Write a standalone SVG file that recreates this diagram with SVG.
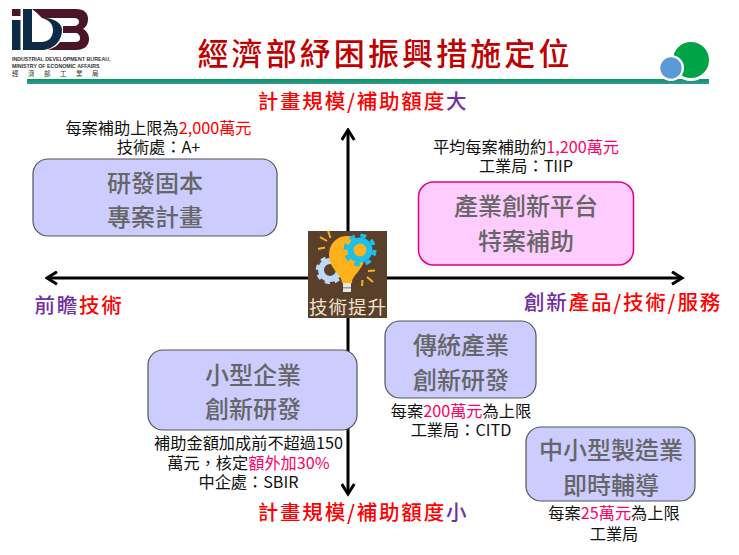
<svg xmlns="http://www.w3.org/2000/svg" width="739" height="555" viewBox="0 0 739 555">
<style>
text{font-family:"Noto Sans CJK TC","Noto Sans",sans-serif;text-anchor:middle}
.box{fill:#ccccff;stroke:#555;stroke-width:1.2}
.bt{font-size:24px;fill:#666;font-weight:500}
.n{font-size:16.2px;fill:#111}
.p{fill:#ff0066}
.r{fill:#ff0000}
.v{fill:#7030a0}
.ax{font-size:20.5px;fill:#ff0000;letter-spacing:1.8px;font-weight:500}
.axis{stroke:#000;stroke-width:3;fill:none}
.lt{font-family:"Liberation Sans",sans-serif;font-size:5.25px;font-weight:700;fill:#333;text-anchor:start}
</style>
<defs>
<linearGradient id="bar" x1="0" y1="0" x2="0" y2="1"><stop offset="0" stop-color="#00a04a"/><stop offset="1" stop-color="#3a90a8"/></linearGradient>
<marker id="ah" viewBox="0 0 12 12" refX="10" refY="6" markerWidth="5" markerHeight="5" orient="auto-start-reverse"><path d="M2 1L10 6L2 11" fill="none" stroke="#000" stroke-width="2.4"/></marker>
</defs>
<rect width="739" height="555" fill="#fff"/>
<g id="header">
<g id="logo">
<rect x="12" y="9" width="8.500" height="7" fill="#4a1525"/>
<rect x="12" y="20" width="8.500" height="30" fill="#0d2b45"/>
<path d="M32 9H76C84 9 88 13 88 19C88 24 86 27 83 29C87 31 89 35 89 39C89 46 84 50 76 50H48C54 48 58 45 60 42H75C78 42 80 41 80 38C80 35 78 33 75 33H63V26H74C77 26 79 24 79 22C79 19 77 18 74 18H42C38 14 35 11 32 9Z" fill="#4a1525"/>
<path d="M23 9H32V42H41C49 42 53 37 53 30C53 24 49 20 42 18H46C56 19 62 24 62 30C62 41 53 50 42 50H23Z" fill="#0d2b45"/>
<text class="lt" x="12" y="61">INDUSTRIAL DEVELOPMENT BUREAU,</text>
<text class="lt" x="12" y="67.500">MINISTRY OF ECONOMIC AFFAIRS</text>
<text x="12" y="76" style="font-size:6.5px;fill:#333;text-anchor:start;letter-spacing:9.500px">經濟部工業局</text>
</g>
<rect x="27" y="79" width="682" height="5" fill="url(#bar)"/>
<circle cx="691" cy="61" r="20" fill="#fff"/>
<circle cx="691" cy="60" r="18" fill="#00a346"/>
<circle cx="671" cy="68" r="13" fill="#fff"/>
<circle cx="671" cy="68" r="10.700" fill="#5b9bd5"/>
<text x="385" y="65" style="font-size:31px;fill:#c00000;font-weight:500;letter-spacing:3.100px">經濟部紓困振興措施定位</text>
</g>
<g id="connectors">
<line class="axis" x1="348" y1="130" x2="348" y2="494" marker-start="url(#ah)" marker-end="url(#ah)"/>
<line class="axis" x1="47" y1="278" x2="682" y2="278" marker-start="url(#ah)" marker-end="url(#ah)"/>
</g>
<g id="axis-top"><text class="ax" x="363" y="109">計畫規模/補助額度<tspan class="v">大</tspan></text></g>
<g id="axis-bottom"><text class="ax" x="363" y="520">計畫規模/補助額度<tspan class="v">小</tspan></text></g>
<g id="axis-left"><text class="ax" x="79" y="313"><tspan class="v">前瞻</tspan>技術</text></g>
<g id="axis-right"><text class="ax" x="623" y="310"><tspan class="v">創新</tspan>產品/技術/服務</text></g>
<g id="center">
<rect x="308" y="231" width="79" height="87" fill="#5a3f2b"/>
<circle cx="330" cy="270" r="9" fill="none" stroke="#bcd9f5" stroke-width="6"/>
<circle cx="330" cy="270" r="12.500" fill="none" stroke="#bcd9f5" stroke-width="3.500" stroke-dasharray="5 4.800"/>
<path d="M342 283C342 274 329 270 329 254A18 18 0 0 1 365 254C365 270 352 274 352 283Z" fill="#ffb11b"/>
<rect x="343" y="283" width="8" height="9" fill="#e6e6e6"/>
<rect x="343" y="287" width="8" height="1.500" fill="#999"/>
<circle cx="360" cy="250" r="9.500" fill="#ffb11b" stroke="#1cc0e8" stroke-width="6"/>
<circle cx="360" cy="250" r="14.500" fill="none" stroke="#1cc0e8" stroke-width="4" stroke-dasharray="5.700 5.690"/>
<g stroke="#ffb11b" stroke-width="2" fill="none"><path d="M318 249l7-1.500M320 237l7 4M328 231l2.500 7M368 271l7-.5M367 277l6 5M362.500 280l-.5 6"/></g>
<text x="348" y="314" style="font-size:18.500px;fill:#f3e3cf;letter-spacing:1px">技術提升</text>
</g>
<g id="n1"><rect class="box" x="33" y="159" width="244" height="77" rx="15"/>
<text class="bt" x="155" y="192">研發固本</text><text class="bt" x="155" y="226">專案計畫</text></g>
<g id="n2"><rect x="418.500" y="182" width="215" height="83" rx="15" fill="#ffccff" stroke="#e6007e" stroke-width="1.500"/>
<text class="bt" x="526" y="215">產業創新平台</text><text class="bt" x="526" y="250">特案補助</text></g>
<g id="n3"><rect class="box" x="148" y="350" width="209" height="80" rx="15"/>
<text class="bt" x="253" y="384">小型企業</text><text class="bt" x="253" y="418">創新研發</text></g>
<g id="n4"><rect class="box" x="385" y="321" width="151" height="77" rx="15"/>
<text class="bt" x="461" y="354">傳統產業</text><text class="bt" x="461" y="389">創新研發</text></g>
<g id="n5"><rect class="box" x="526" y="427" width="169" height="74" rx="15"/>
<text class="bt" x="611" y="459">中小型製造業</text><text class="bt" x="611" y="494">即時輔導</text></g>
<g id="notes">
<text class="n" x="158.500" y="134">每案補助上限為<tspan class="r">2,000萬元</tspan></text>
<text class="n" x="158.500" y="153">技術處：A+</text>
<text class="n" x="526" y="153">平均每案補助約<tspan class="p">1,200萬元</tspan></text>
<text class="n" x="526" y="172">工業局：TIIP</text>
<text class="n" x="248.500" y="449">補助金額加成前不超過150</text>
<text class="n" x="248.500" y="469">萬元，核定<tspan class="p">額外加30%</tspan></text>
<text class="n" x="248.500" y="488">中企處：SBIR</text>
<text class="n" x="461" y="417">每案<tspan class="p">200萬元</tspan>為上限</text>
<text class="n" x="461" y="436">工業局：CITD</text>
<text class="n" x="614" y="519">每案<tspan class="p">25萬元</tspan>為上限</text>
<text class="n" x="614" y="540">工業局</text>
</g>
</svg>
